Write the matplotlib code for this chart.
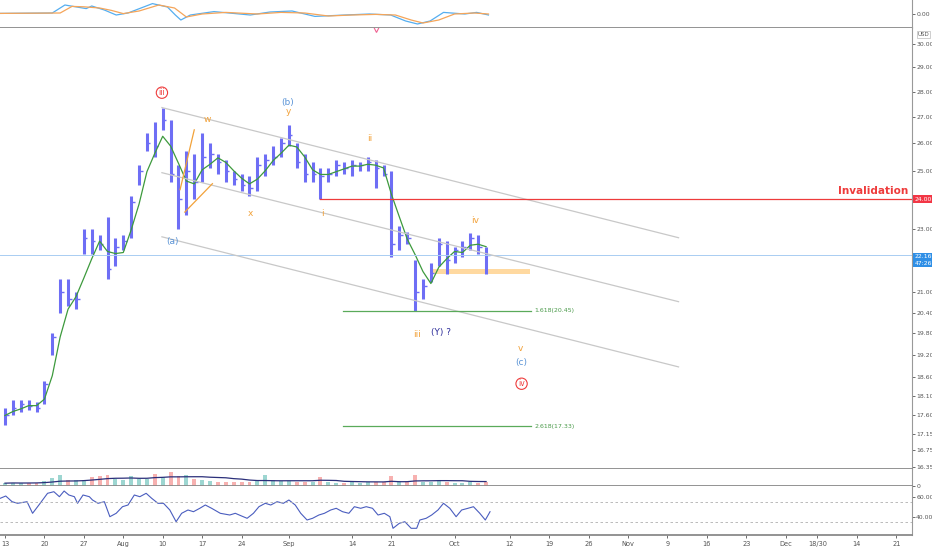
import numpy as np
import pandas as pd
import matplotlib
matplotlib.use("Agg")
import matplotlib.pyplot as plt
from matplotlib.ticker import NullLocator, NullFormatter

# daily bars, x = trading day index (0 = Jul 13)
high = [17.8, 18.0, 18.0, 18.0, 17.95, 18.5, 19.8, 21.4, 21.4, 21.0,
        23.0, 23.0, 22.8, 23.4, 22.7, 22.8, 24.1, 25.2, 26.4, 26.8,
        27.35, 26.9, 25.2, 25.7, 25.6, 26.4, 26.0, 25.6, 25.4, 25.0,
        24.9, 24.8, 25.5, 25.6, 25.9, 26.2, 26.7, 26.0, 25.6, 25.3,
        25.1, 25.1, 25.4, 25.3, 25.4, 25.3, 25.5, 25.4, 25.2, 25.0,
        23.1, 22.9, 22.0, 21.4, 21.9, 22.7, 22.6, 22.4, 22.6, 22.85,
        22.8, 22.4]
low = [17.35, 17.6, 17.7, 17.75, 17.7, 17.9, 19.2, 20.4, 20.6, 20.5,
       22.2, 22.2, 22.3, 21.4, 21.8, 22.3, 22.7, 24.5, 25.7, 25.5,
       26.5, 24.6, 23.0, 23.45, 24.0, 24.6, 25.1, 24.9, 24.6, 24.5,
       24.3, 24.1, 24.3, 24.8, 25.2, 25.5, 25.9, 25.1, 24.6, 24.6,
       24.0, 24.6, 24.8, 24.9, 24.8, 25.0, 25.0, 24.4, 24.8, 22.1,
       22.3, 22.5, 20.45, 20.8, 21.3, 21.8, 21.55, 21.9, 22.1, 22.3,
       22.2, 21.55]
close = [17.6, 17.8, 17.9, 17.85, 17.8, 18.4, 19.7, 21.0, 20.8, 20.8,
         22.7, 22.6, 22.5, 21.7, 22.4, 22.6, 23.9, 25.0, 26.0, 25.9,
         26.9, 24.9, 24.0, 25.0, 24.6, 25.5, 25.6, 25.3, 25.0, 24.7,
         24.5, 24.4, 25.2, 25.4, 25.5, 26.0, 26.3, 25.3, 24.9, 24.9,
         24.8, 24.9, 25.2, 25.1, 25.2, 25.2, 25.3, 25.1, 24.9, 22.5,
         22.8, 22.7, 21.0, 21.2, 21.6, 22.5, 22.0, 22.3, 22.4, 22.7,
         22.4, 22.16]
volume = [35, 40, 35, 38, 42, 60, 95, 130, 80, 70,
          75, 110, 120, 130, 85, 70, 120, 90, 85, 150,
          110, 170, 120, 140, 90, 70, 60, 55, 50, 45,
          50, 55, 60, 140, 70, 60, 65, 55, 50, 45,
          110, 45, 40, 40, 45, 40, 45, 50, 45, 120,
          60, 50, 130, 55, 50, 60, 45, 40, 40, 45,
          40, 45]

macd_idx = [-0.6, 6, 7.6, 9.1, 10.3, 11, 12.6, 14.1, 15.6, 18.7, 20.6, 21.6, 22.3, 23.5,
            26.5, 31.1, 33.6, 36.4, 39.3, 43.1, 46.2, 48.9, 50.8, 52.3, 53.9, 55.6, 58.3, 59.8, 61.3]
macd_val = [0.03, 0.05, 0.45, 0.35, 0.27, 0.4, 0.2, -0.05, 0.05, 0.52, 0.35, -0.05, -0.3, -0.05,
            0.12, -0.05, 0.1, 0.15, -0.12, -0.05, 0.0, -0.05, -0.35, -0.5, -0.35, 0.08, 0.0, 0.08, -0.05]
sig_idx = [-0.6, 7, 8.5, 10, 12, 13.5, 15, 17, 19.5, 21.5, 23, 25, 28, 32, 35, 38, 41, 44, 47,
           49.5, 51.5, 53, 55, 57, 59.5, 61.3]
sig_val = [0.03, 0.05, 0.38, 0.36, 0.3, 0.18, 0.02, 0.15, 0.45, 0.3, -0.15, 0.0, 0.08, 0.0, 0.08,
           0.05, -0.1, -0.05, -0.02, -0.05, -0.3, -0.45, -0.3, 0.0, 0.05, 0.0]

rsi_idx = [-0.6, 0.1, 0.9, 1.6, 2.8, 3.5, 4.3, 5.4, 6.2, 6.9, 7.5, 8.1, 8.8, 9.2, 9.9, 10.7, 11.1,
           11.8, 12.6, 13.3, 14.1, 14.9, 15.6, 16.4, 17.1, 17.9, 18.6, 19.4, 20.1, 20.9, 21.7, 22.4,
           23.2, 23.9, 24.7, 25.4, 26.2, 27.3, 28.5, 29.2, 30.0, 30.7, 31.5, 32.2, 33.0, 33.7, 34.5,
           35.3, 36.0, 36.8, 37.5, 38.3, 39.0, 39.8, 40.5, 41.3, 42.0, 42.8, 43.6, 44.3, 45.1, 45.8,
           46.6, 47.3, 48.1, 48.8, 49.2, 50.0, 50.7, 51.5, 52.2, 52.6, 53.4, 54.1, 54.9, 55.6, 56.4,
           57.2, 57.9, 58.7, 59.4, 60.2, 60.9, 61.5]
rsi_val = [58.7, 61, 55.3, 53.7, 55.3, 43.7, 52, 63.7, 65.3, 60.3, 66, 62, 60.3, 53.7, 62, 60.3, 57,
           53.7, 55.3, 40.3, 43.7, 50.3, 52, 62, 60.3, 63.7, 58.7, 53.7, 53.7, 47, 35.3, 43.7, 47,
           45.3, 48.7, 52, 48.7, 43.7, 42, 43.7, 41, 38.7, 43.7, 50.3, 53.7, 52, 55.3, 53.7, 57, 52,
           43.7, 37, 38.7, 42, 43.7, 47, 48.7, 45.3, 43.7, 50.3, 48.7, 50.3, 48.7, 42, 43.7, 40.3,
           28.7, 33.7, 35.3, 28.7, 28.7, 37, 38.7, 42, 47, 53.7, 48.7, 40.3, 47, 48.7, 50.3, 43.7,
           37, 45.3]

# drawings
chan_x = [19.9, 85.4]
chan_upper = [27.37, 22.71]
chan_mid = [24.93, 20.72]
chan_low = [22.74, 18.87]
trend1_x, trend1_y = [22.2, 24.0], [24.33, 26.51]
trend2_x, trend2_y = [22.8, 26.3], [23.56, 24.54]
invalid_start, invalid_price = 40, 24.00
fib_x = [42.9, 66.75]
fib_levels = [20.45, 17.33]
fib_labels = ["1.618(20.45)", "2.618(17.33)"]
zone_x = [54.2, 66.6]
zone_lo, zone_hi = 21.55, 21.72
last_price = 22.16

price_ticks = [30, 29, 28, 27, 26, 25, 23, 21, 20.4, 19.8, 19.2, 18.6, 18.1, 17.6, 17.15, 16.75, 16.35]
date_pos = [0, 5, 10, 15, 20, 25, 30, 36, 44, 49, 57, 64, 69, 74, 79, 84, 89, 94, 99, 103, 108, 113]
date_lab = ["13", "20", "27", "Aug", "10", "17", "24", "Sep", "14", "21", "Oct", "12", "19", "26",
            "Nov", "9", "16", "23", "Dec", "18/30", "14", "21"]

ORANGE = "#f2a23a"
BLUE = "#5b94d6"
RED = "#ee3b3b"
GRID = "#8a8a8a"
XLIM = (-0.63, 115.0)
TICK_FS = 4.4

fig = plt.figure(figsize=(9.32, 5.5), dpi=100)
W = 912 / 932
ax_macd = fig.add_axes([0, 1 - 27.5 / 550, W, 27.5 / 550])
ax = fig.add_axes([0, 1 - 469 / 550, W, 441.5 / 550])
ax_vol = fig.add_axes([0, 1 - 486 / 550, W, 17 / 550])
ax_rsi = fig.add_axes([0, 1 - 535 / 550, W, 49 / 550])

for a in (ax_macd, ax, ax_vol, ax_rsi):
    a.set_xlim(*XLIM)
    for s in ("top", "left"):
        a.spines[s].set_visible(False)
    a.spines["right"].set_color("#999999")
    a.spines["right"].set_linewidth(0.8)
    a.spines["bottom"].set_color(GRID)
    a.spines["bottom"].set_linewidth(1.3)
    a.yaxis.tick_right()
    a.tick_params(axis="y", labelsize=TICK_FS, colors="#555555", length=2, pad=1, width=0.6)
    a.tick_params(axis="x", bottom=False, labelbottom=False)

# MACD
ax_macd.plot(macd_idx, macd_val, color="#55aef0", lw=0.9)
ax_macd.plot(sig_idx, sig_val, color="#f5a55a", lw=0.9)
ax_macd.set_ylim(-0.675, 0.7)
ax_macd.set_yticks([0])
ax_macd.set_yticklabels(["0.00"])

# price panel
days = np.arange(len(close))
ax.set_yscale("log")
ax.set_ylim(16.30, 30.70)
ax.vlines(days, low, high, color="#6e6ef5", lw=2.2)
ax.hlines(close, days, days + 0.45, color="#6e6ef5", lw=1.0)
ma = pd.Series(close).rolling(3, min_periods=1).mean()
ax.plot(days, ma, color="#3d9a3d", lw=0.9)

ax.axhline(last_price, color="#a9cdf2", lw=0.7)
for ys in (chan_upper, chan_mid, chan_low):
    ax.plot(chan_x, ys, color="#c8c8c8", lw=0.9)
ax.plot(trend1_x, trend1_y, color=ORANGE, lw=0.9)
ax.plot(trend2_x, trend2_y, color=ORANGE, lw=0.9)
ax.plot([invalid_start, XLIM[1]], [invalid_price] * 2, color=RED, lw=0.9)
ax.fill_between(zone_x, zone_lo, zone_hi, color="#ffd9a0", lw=0)
for lv, lb in zip(fib_levels, fib_labels):
    ax.plot(fib_x, [lv, lv], color="#5aaa5a", lw=0.9)
    ax.text(fib_x[1] + 0.4, lv, lb, color="#4a9a4a", fontsize=4.5, va="center", ha="left")

ax.text(114.5, 24.3, "Invalidation", color=RED, fontsize=7.5, fontweight="bold",
        ha="right", va="center")

# wave labels
circ = dict(boxstyle="circle,pad=0.15", fc="white", ec=RED, lw=0.8)
ax.text(19.9, 27.96, "iii", color=RED, fontsize=5.5, ha="center", va="center", bbox=circ)
ax.text(65.5, 18.42, "iv", color=RED, fontsize=5.5, ha="center", va="center", bbox=circ)
labels = [
    (35.9, 27.56, "(b)", BLUE), (35.9, 27.21, "y", ORANGE), (25.6, 26.9, "w", ORANGE),
    (31.1, 23.52, "x", ORANGE), (21.3, 22.58, "(a)", BLUE), (46.3, 26.18, "ii", ORANGE),
    (40.2, 23.51, "i", ORANGE), (59.6, 23.27, "iv", ORANGE), (52.2, 19.76, "iii", ORANGE),
    (55.3, 19.82, "(Y) ?", "#2e2e9a"), (65.3, 19.37, "v", ORANGE), (65.5, 18.98, "(c)", BLUE),
]
for x, y, t, c in labels:
    ax.text(x, y, t, color=c, fontsize=6.5, ha="center", va="center")
ax.plot([47], [30.62], marker="v", mfc="none", mec="#f06292", ms=4, mew=0.8)

ax.set_yticks(price_ticks)
ax.set_yticklabels([f"{t:.2f}" for t in price_ticks])
ax.yaxis.set_minor_locator(NullLocator())
ax.yaxis.set_minor_formatter(NullFormatter())

yt = ax.get_yaxis_transform()
box_x = 1.0025
ax.text(box_x, invalid_price, "24.00", transform=yt, fontsize=TICK_FS, color="white",
        va="center", ha="left", clip_on=False,
        bbox=dict(boxstyle="square,pad=0.25", fc="#f23645", ec="none"))
ax.text(box_x, 22.0, "22.16\n47:26", transform=yt, fontsize=TICK_FS, color="white",
        va="center", ha="left", clip_on=False, linespacing=1.4,
        bbox=dict(boxstyle="square,pad=0.25", fc="#2f8fe6", ec="none"))
ax.text(1.006, 30.38, "USD", transform=yt, fontsize=4, color="#555555", va="center",
        ha="left", clip_on=False,
        bbox=dict(boxstyle="square,pad=0.15", fc="white", ec="#bbbbbb", lw=0.5))

# volume
vcol = ["#26a69a" if i == 0 or close[i] >= close[i - 1] else "#ef5350" for i in days]
ax_vol.bar(days, volume, width=0.5, color=vcol, alpha=0.45)
ax_vol.plot(days, pd.Series(volume).rolling(10, min_periods=1).mean(), color="#2b2f7a", lw=0.9)
ax_vol.set_ylim(0, 210)
ax_vol.set_yticks([0])
ax_vol.set_yticklabels(["0"])

# RSI
ax_rsi.plot(rsi_idx, rsi_val, color="#4a5dbf", lw=0.8)
for lv in (55, 35):
    ax_rsi.axhline(lv, color="#b0b0b0", lw=0.6, ls=(0, (3, 3)))
ax_rsi.set_ylim(22, 71)
ax_rsi.set_yticks([60, 40])
ax_rsi.set_yticklabels(["60.00", "40.00"])
ax_rsi.set_xticks(date_pos)
ax_rsi.set_xticklabels(date_lab)
ax_rsi.tick_params(axis="x", bottom=True, labelbottom=True, labelsize=TICK_FS + 0.4,
                   colors="#555555", length=2, pad=2, width=0.6)

fig.savefig("out.png", dpi=100, facecolor="white")
